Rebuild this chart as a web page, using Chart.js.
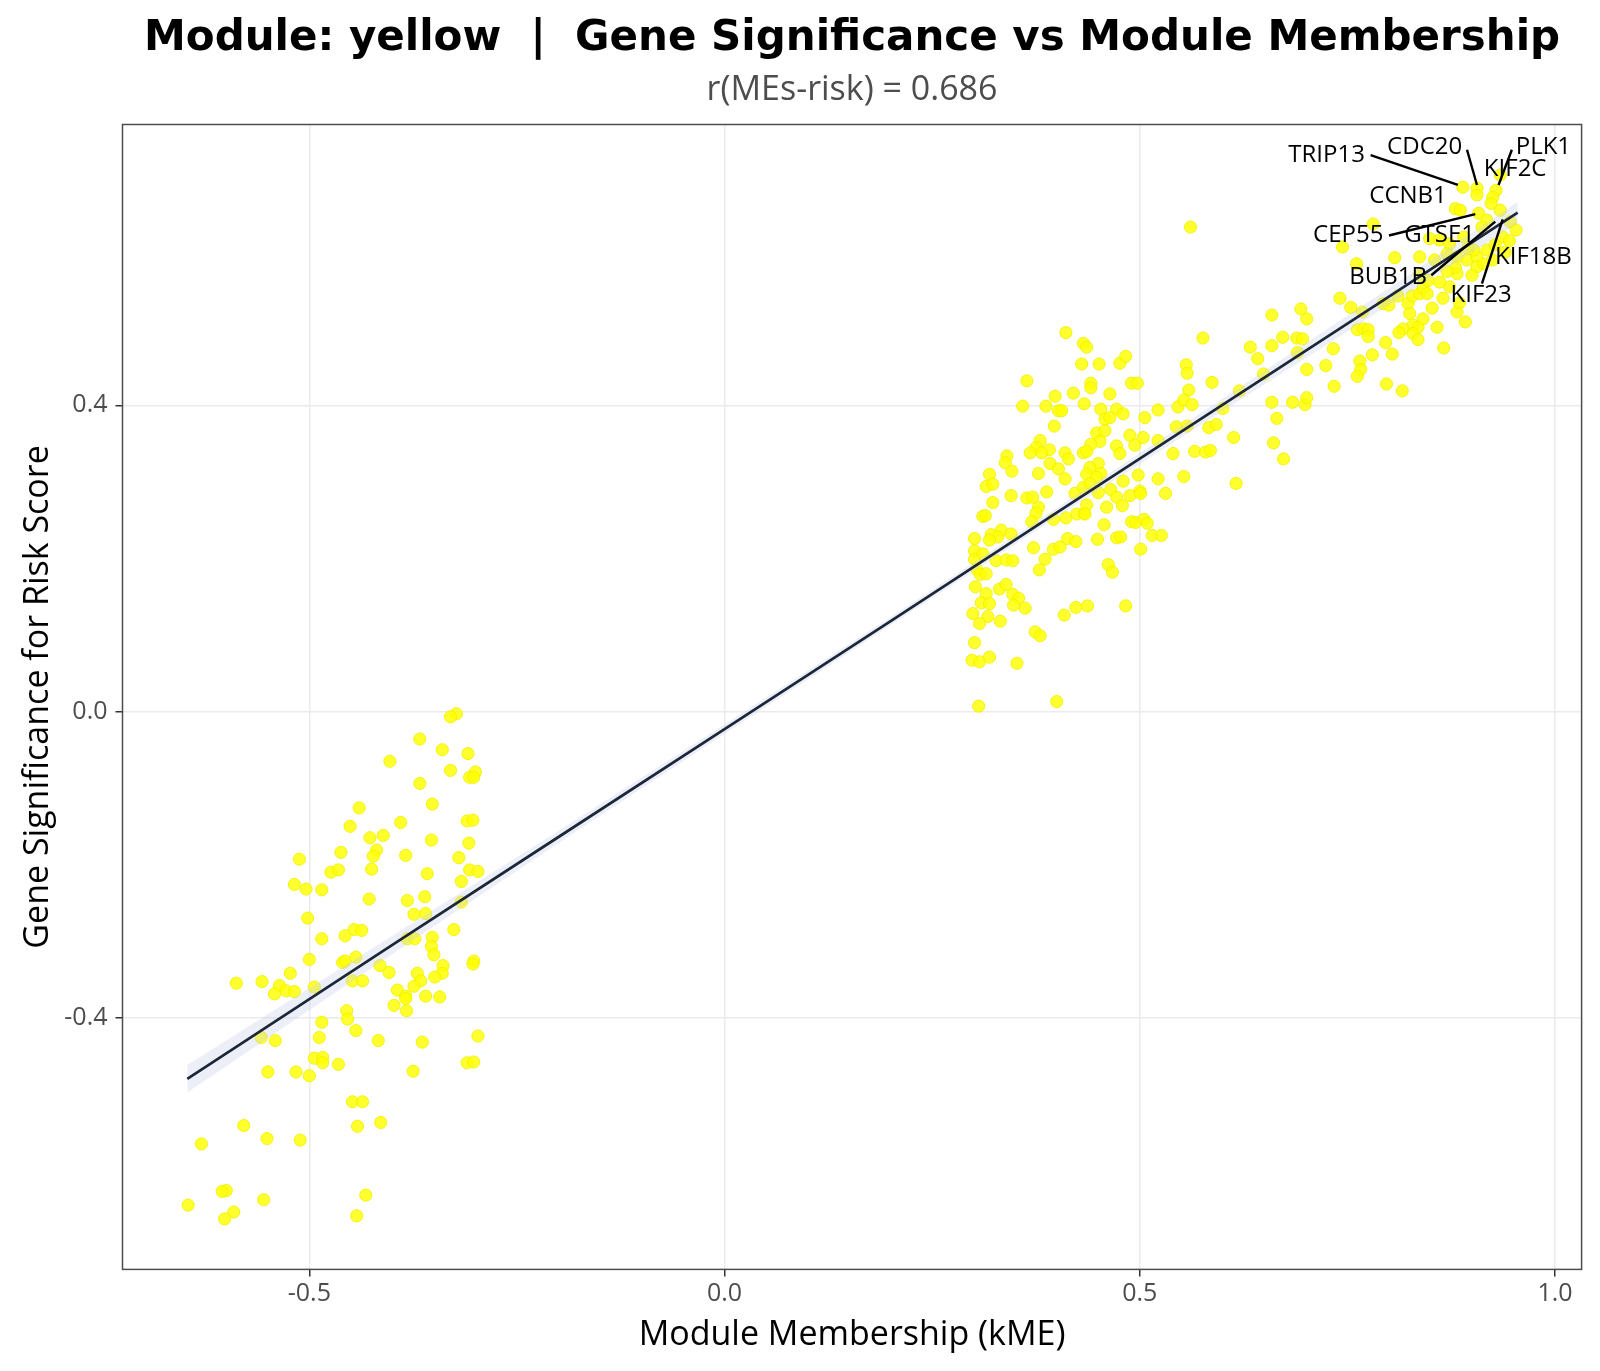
<!DOCTYPE html>
<html><head><meta charset="utf-8">
<script src="https://cdn.jsdelivr.net/npm/chart.js@4.4.1/dist/chart.umd.min.js"></script>
<style>html,body{margin:0;padding:0;background:#fff}#wrap{width:1600px;height:1371px;position:relative}</style>
</head><body><div id="wrap"><canvas id="c"></canvas></div>
<script>
const titleText = 'Module: yellow  |  Gene Significance vs Module Membership';
const subtitleText = 'r(MEs-risk) = 0.686';
const xAxisTitle = 'Module Membership (kME)';
const yAxisTitle = 'Gene Significance for Risk Score';
const xTickValues = [-0.5, 0.0, 0.5, 1.0];
const yTickValues = [-0.4, 0.0, 0.4];

// genes with negative module membership
const genesNegative = [
[-0.323,-0.003],[-0.330,-0.007],[-0.367,-0.036],[-0.340,-0.050],[-0.309,-0.055],[-0.403,-0.065],
[-0.330,-0.077],[-0.300,-0.079],[-0.307,-0.086],[-0.302,-0.086],[-0.367,-0.094],[-0.352,-0.121],
[-0.440,-0.126],[-0.390,-0.145],[-0.451,-0.150],[-0.310,-0.143],[-0.303,-0.142],[-0.427,-0.165],
[-0.411,-0.162],[-0.353,-0.168],[-0.308,-0.172],[-0.419,-0.181],[-0.423,-0.189],[-0.462,-0.184],
[-0.384,-0.188],[-0.512,-0.193],[-0.320,-0.191],[-0.425,-0.206],[-0.474,-0.210],[-0.465,-0.207],
[-0.307,-0.207],[-0.297,-0.209],[-0.358,-0.212],[-0.518,-0.226],[-0.504,-0.232],[-0.485,-0.233],
[-0.317,-0.222],[-0.361,-0.242],[-0.428,-0.245],[-0.382,-0.247],[-0.317,-0.249],[-0.374,-0.265],
[-0.360,-0.264],[-0.502,-0.270],[-0.446,-0.285],[-0.437,-0.286],[-0.457,-0.293],[-0.326,-0.285],
[-0.485,-0.297],[-0.382,-0.297],[-0.373,-0.297],[-0.352,-0.295],[-0.353,-0.307],[-0.350,-0.318],
[-0.500,-0.324],[-0.460,-0.328],[-0.457,-0.326],[-0.444,-0.321],[-0.415,-0.332],[-0.404,-0.341],
[-0.302,-0.326],[-0.303,-0.330],[-0.339,-0.332],[-0.340,-0.342],[-0.349,-0.347],[-0.370,-0.342],
[-0.366,-0.352],[-0.374,-0.359],[-0.588,-0.355],[-0.557,-0.353],[-0.523,-0.342],[-0.536,-0.358],
[-0.528,-0.365],[-0.518,-0.366],[-0.542,-0.369],[-0.494,-0.360],[-0.448,-0.352],[-0.436,-0.352],
[-0.394,-0.364],[-0.384,-0.372],[-0.384,-0.375],[-0.360,-0.372],[-0.343,-0.373],[-0.398,-0.384],
[-0.383,-0.391],[-0.455,-0.391],[-0.454,-0.402],[-0.485,-0.406],[-0.444,-0.417],[-0.558,-0.426],
[-0.541,-0.430],[-0.488,-0.426],[-0.417,-0.430],[-0.364,-0.432],[-0.297,-0.424],[-0.494,-0.453],
[-0.484,-0.452],[-0.484,-0.459],[-0.465,-0.461],[-0.310,-0.459],[-0.302,-0.458],[-0.550,-0.471],
[-0.516,-0.471],[-0.500,-0.476],[-0.375,-0.470],[-0.448,-0.510],[-0.436,-0.510],[-0.579,-0.541],
[-0.414,-0.537],[-0.442,-0.542],[-0.630,-0.565],[-0.551,-0.558],[-0.511,-0.560],[-0.600,-0.626],
[-0.605,-0.627],[-0.555,-0.638],[-0.432,-0.632],[-0.646,-0.645],[-0.591,-0.654],[-0.602,-0.663],
[-0.443,-0.659]
];

// genes with moderate positive module membership
const genesMiddle = [
[0.411,0.495],[0.432,0.481],[0.436,0.476],[0.576,0.488],[0.430,0.454],[0.451,0.454],[0.476,0.455],
[0.483,0.464],[0.556,0.453],[0.557,0.442],[0.364,0.432],[0.441,0.429],[0.441,0.423],[0.490,0.429],
[0.497,0.429],[0.587,0.430],[0.398,0.412],[0.420,0.416],[0.464,0.415],[0.559,0.420],[0.620,0.419],
[0.359,0.399],[0.387,0.399],[0.433,0.402],[0.402,0.393],[0.406,0.393],[0.453,0.395],[0.472,0.395],
[0.480,0.389],[0.522,0.394],[0.546,0.398],[0.553,0.407],[0.563,0.401],[0.600,0.396],[0.397,0.373],
[0.458,0.382],[0.464,0.384],[0.506,0.384],[0.544,0.372],[0.557,0.373],[0.583,0.371],[0.592,0.375],
[0.448,0.364],[0.458,0.367],[0.488,0.361],[0.504,0.358],[0.522,0.354],[0.452,0.353],[0.472,0.347],
[0.476,0.337],[0.441,0.349],[0.494,0.348],[0.613,0.358],[0.380,0.354],[0.375,0.345],[0.368,0.338],
[0.391,0.342],[0.382,0.338],[0.410,0.338],[0.414,0.330],[0.432,0.338],[0.436,0.340],[0.340,0.334],
[0.338,0.325],[0.346,0.314],[0.392,0.324],[0.402,0.317],[0.450,0.324],[0.440,0.319],[0.436,0.310],
[0.453,0.311],[0.448,0.306],[0.319,0.310],[0.315,0.294],[0.323,0.297],[0.378,0.311],[0.410,0.304],
[0.480,0.301],[0.498,0.309],[0.522,0.304],[0.553,0.307],[0.540,0.337],[0.566,0.340],[0.579,0.339],
[0.585,0.341],[0.616,0.298],[0.345,0.282],[0.323,0.273],[0.364,0.279],[0.371,0.280],[0.388,0.287],
[0.422,0.285],[0.432,0.293],[0.440,0.298],[0.450,0.286],[0.465,0.290],[0.472,0.280],[0.488,0.282],
[0.500,0.288],[0.501,0.285],[0.531,0.285],[0.311,0.255],[0.314,0.256],[0.378,0.267],[0.375,0.259],
[0.370,0.248],[0.396,0.251],[0.411,0.253],[0.424,0.258],[0.433,0.259],[0.436,0.270],[0.434,0.258],
[0.460,0.267],[0.479,0.269],[0.457,0.244],[0.490,0.248],[0.495,0.247],[0.505,0.251],[0.509,0.246],
[0.333,0.237],[0.321,0.231],[0.329,0.228],[0.345,0.232],[0.301,0.226],[0.319,0.224],[0.372,0.214],
[0.396,0.212],[0.404,0.215],[0.413,0.226],[0.423,0.222],[0.449,0.225],[0.472,0.227],[0.477,0.228],
[0.515,0.230],[0.526,0.230],[0.501,0.212],[0.301,0.210],[0.301,0.199],[0.311,0.206],[0.327,0.197],
[0.339,0.198],[0.347,0.197],[0.386,0.199],[0.379,0.185],[0.304,0.185],[0.308,0.179],[0.315,0.180],
[0.302,0.163],[0.331,0.160],[0.339,0.166],[0.462,0.192],[0.467,0.182],[0.315,0.154],[0.347,0.153],
[0.354,0.148],[0.348,0.139],[0.309,0.142],[0.319,0.141],[0.362,0.135],[0.409,0.126],[0.423,0.136],
[0.437,0.138],[0.483,0.138],[0.299,0.128],[0.317,0.124],[0.307,0.115],[0.332,0.118],[0.374,0.104],
[0.380,0.099],[0.301,0.090],[0.298,0.067],[0.307,0.065],[0.319,0.071],[0.352,0.063],[0.306,0.007],
[0.400,0.013],[0.561,0.633]
];

// genes with high module membership (hub region)
const genesHigh = [
[0.659,0.518],[0.694,0.526],[0.701,0.513],[0.741,0.540],[0.754,0.528],[0.768,0.522],[0.633,0.476],
[0.642,0.461],[0.659,0.478],[0.672,0.489],[0.689,0.488],[0.696,0.487],[0.690,0.469],[0.649,0.441],
[0.701,0.447],[0.724,0.452],[0.733,0.474],[0.734,0.425],[0.762,0.499],[0.769,0.500],[0.775,0.499],
[0.775,0.490],[0.765,0.458],[0.766,0.447],[0.762,0.438],[0.780,0.466],[0.796,0.482],[0.804,0.467],
[0.797,0.428],[0.816,0.419],[0.659,0.404],[0.684,0.404],[0.699,0.401],[0.701,0.410],[0.665,0.383],
[0.661,0.351],[0.673,0.330],[0.793,0.533],[0.800,0.531],[0.811,0.543],[0.823,0.533],[0.825,0.520],
[0.828,0.543],[0.837,0.546],[0.841,0.553],[0.846,0.546],[0.852,0.527],[0.865,0.540],[0.873,0.555],
[0.841,0.513],[0.829,0.505],[0.817,0.500],[0.812,0.495],[0.835,0.502],[0.829,0.494],[0.835,0.486],
[0.858,0.502],[0.866,0.475],[0.882,0.522],[0.885,0.534],[0.892,0.509],
[0.889,0.685],[0.906,0.684],[0.906,0.675],[0.929,0.681],[0.925,0.672],[0.923,0.664],[0.934,0.701],
[0.880,0.657],[0.886,0.655],[0.908,0.651],[0.934,0.655],[0.918,0.642],[0.912,0.633],[0.946,0.640],
[0.953,0.629],[0.937,0.620],[0.781,0.637],[0.744,0.607],[0.849,0.618],[0.861,0.616],[0.873,0.611],
[0.807,0.593],[0.837,0.594],[0.870,0.598],[0.882,0.594],[0.894,0.590],[0.906,0.594],[0.918,0.603],
[0.902,0.603],[0.761,0.585],[0.837,0.570],[0.847,0.563],[0.861,0.561],[0.882,0.572],[0.906,0.581],
[0.900,0.570],[0.914,0.585],[0.928,0.610],[0.940,0.600],[0.925,0.590],[0.890,0.620],[0.895,0.605],
[0.880,0.580],[0.870,0.575],[0.855,0.590],[0.945,0.615]
];

// linear fit with confidence band
const fitX    = [-0.647,-0.4,-0.2,0.0,0.2,0.4,0.6,0.8,0.955];
const fitY    = [-0.480,-0.305,-0.164,-0.023,0.118,0.260,0.401,0.542,0.652];
const bandLow = [-0.498,-0.317,-0.172,-0.029,0.113,0.254,0.393,0.531,0.638];
const bandHigh= [-0.462,-0.293,-0.156,-0.017,0.123,0.266,0.409,0.553,0.666];

// labelled hub genes: name, point, label centre, segment start (null = no segment)
const hubNames  = ['TRIP13','CDC20','PLK1','KIF2C','CCNB1','CEP55','GTSE1','BUB1B','KIF18B','KIF23'];
const hubPoint  = [[0.883,0.688],[0.906,0.688],[0.932,0.688],null,null,[0.904,0.650],null,[0.928,0.640],null,[0.937,0.643]];
const hubLabel  = [[0.725,0.727],[0.843,0.738],[0.986,0.738],[0.952,0.708],[0.823,0.673],[0.751,0.622],[0.861,0.622],[0.799,0.568],[0.974,0.594],[0.911,0.544]];
const hubSegFrom= [[0.778,0.727],[0.894,0.734],[0.948,0.734],null,null,[0.800,0.622],null,[0.851,0.570],null,[0.912,0.559]];

const toXY = a => a.map(p => ({x:p[0], y:p[1]}));
const allGenes = toXY(genesNegative.concat(genesMiddle, genesHigh));

const decor = {
  id:'decor',
  afterDatasetsDraw(chart){
    const ctx = chart.ctx, xs = chart.scales.x, ys = chart.scales.y;
    ctx.save();
    ctx.strokeStyle = '#000'; ctx.lineWidth = 2.4;
    hubNames.forEach((n,i)=>{
      if(hubSegFrom[i] && hubPoint[i]){
        ctx.beginPath();
        ctx.moveTo(xs.getPixelForValue(hubSegFrom[i][0]), ys.getPixelForValue(hubSegFrom[i][1]));
        ctx.lineTo(xs.getPixelForValue(hubPoint[i][0]), ys.getPixelForValue(hubPoint[i][1]));
        ctx.stroke();
      }
    });
    ctx.fillStyle = '#000'; ctx.font = '24px "Open Sans"';
    ctx.textAlign = 'center'; ctx.textBaseline = 'middle';
    hubNames.forEach((n,i)=>{
      ctx.fillText(n, xs.getPixelForValue(hubLabel[i][0]), ys.getPixelForValue(hubLabel[i][1]));
    });
    ctx.restore();
  },
  afterDraw(chart){
    const ctx = chart.ctx, a = chart.chartArea;
    const cx = (a.left + a.right)/2, cy = (a.top + a.bottom)/2;
    ctx.save();
    ctx.strokeStyle = '#4d4d4d'; ctx.lineWidth = 1.5;
    ctx.strokeRect(a.left, a.top, a.right - a.left, a.bottom - a.top);
    ctx.textAlign = 'center'; ctx.textBaseline = 'alphabetic';
    ctx.fillStyle = '#000'; ctx.font = 'bold 42px "DejaVu Sans"';
    ctx.fillText(titleText, cx, 50);
    ctx.fillStyle = '#4d4d4d'; ctx.font = '34px "Open Sans"';
    ctx.fillText(subtitleText, cx, 100);
    ctx.fillStyle = '#000'; ctx.font = '34px "Open Sans"';
    ctx.fillText(xAxisTitle, cx, 1345);
    ctx.translate(48, cy); ctx.rotate(-Math.PI/2);
    ctx.fillText(yAxisTitle, 0, 0);
    ctx.restore();
  }
};

new Chart(document.getElementById('c'), {
  type:'scatter',
  data:{ datasets:[
    { label:'fit', type:'line', data: fitX.map((x,i)=>({x, y:fitY[i]})), borderColor:'#1c2738', borderWidth:2.7,
      pointRadius:0, fill:false, order:1 },
    { label:'bandHigh', type:'line', data: fitX.map((x,i)=>({x, y:bandHigh[i]})), borderWidth:0, borderColor:'rgba(0,0,0,0)',
      pointRadius:0, fill:'+1', backgroundColor:'rgba(200,205,235,0.35)', order:2 },
    { label:'bandLow', type:'line', data: fitX.map((x,i)=>({x, y:bandLow[i]})), borderWidth:0, borderColor:'rgba(0,0,0,0)',
      pointRadius:0, fill:false, order:2 },
    { label:'genes', data: allGenes, pointRadius:6.1, backgroundColor:'rgba(255,255,0,0.82)',
      borderColor:'rgba(240,240,0,0.85)', borderWidth:1, order:3 }
  ]},
  options:{
    responsive:true, maintainAspectRatio:false, animation:false, devicePixelRatio:1,
    layout:{ padding:{ left:0, right:18.4, top:124.5, bottom:0 } },
    plugins:{ legend:{display:false}, tooltip:{enabled:false} },
    scales:{
      x:{ type:'linear', min:-0.725, max:1.032,
        afterBuildTicks: ax => { ax.ticks = xTickValues.map(v=>({value:v})); },
        afterFit: ax => { ax.height = 101.6; },
        grid:{ color:'#ebebeb', lineWidth:1.5, tickColor:'#333', tickLength:7, drawTicks:true },
        border:{ display:false },
        ticks:{ color:'#4d4d4d', font:{ family:'"Open Sans"', size:25 }, padding:2, callback: v => v.toFixed(1) }
      },
      y:{ type:'linear', min:-0.729, max:0.767,
        afterBuildTicks: ax => { ax.ticks = yTickValues.map(v=>({value:v})); },
        afterFit: ax => { ax.width = 122.5; },
        grid:{ color:'#ebebeb', lineWidth:1.5, tickColor:'#333', tickLength:7, drawTicks:true },
        border:{ display:false },
        ticks:{ color:'#4d4d4d', font:{ family:'"Open Sans"', size:25 }, padding:8, callback: v => v.toFixed(1) }
      }
    }
  },
  plugins:[decor]
});
</script></body></html>
